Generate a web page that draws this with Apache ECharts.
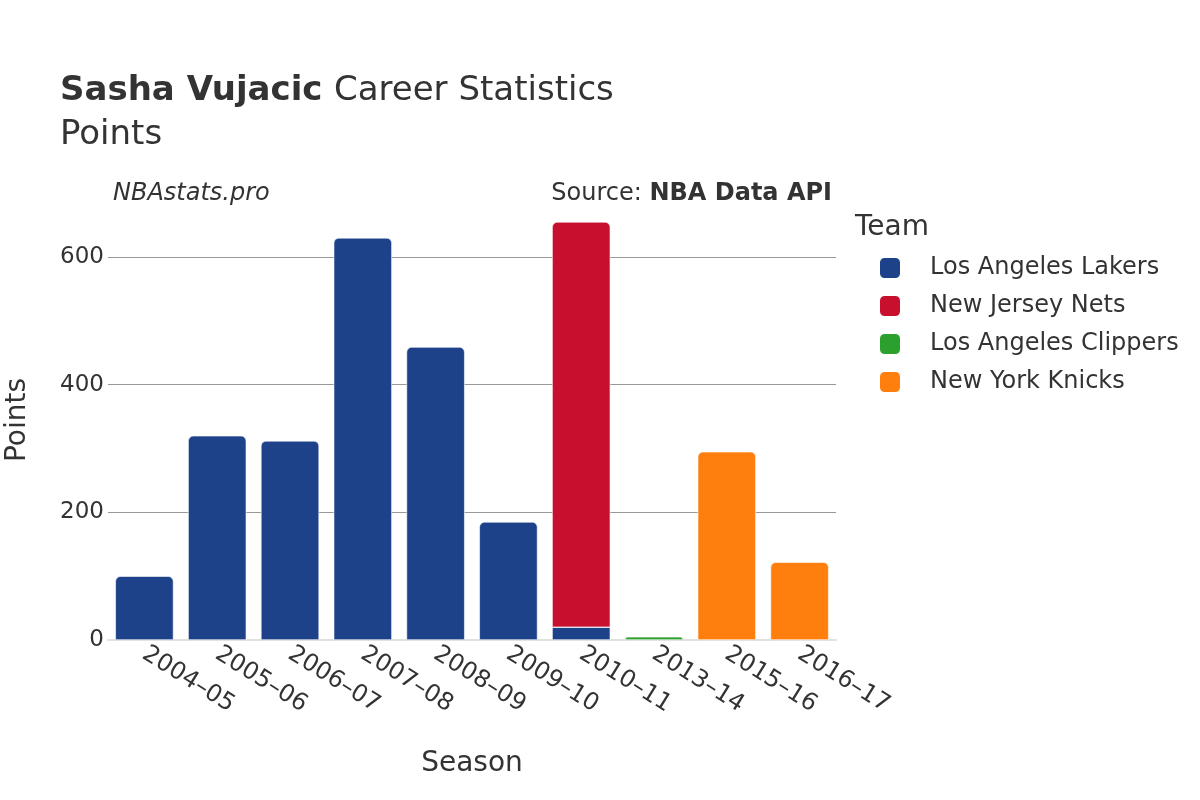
<!DOCTYPE html>
<html>
<head>
<meta charset="utf-8">
<script src="https://cdn.jsdelivr.net/npm/echarts@6/dist/echarts.min.js"></script>
<style>
  html, body { margin: 0; padding: 0; background: #fff; }
  #main { width: 1200px; height: 800px; }
</style>
</head>
<body>
<div id="main"></div>
<script>
var seasons = ["2004–05", "2005–06", "2006–07", "2007–08", "2008–09", "2009–10", "2010–11", "2013–14", "2015–16", "2016–17"];
var teams = ["Los Angeles Lakers", "New Jersey Nets", "Los Angeles Clippers", "New York Knicks"];
var lakers   = [100, 320, 312, 630, 459, 185, 20, null, null, null];
var nets     = [null, null, null, null, null, null, 635, null, null, null];
var clippers = [null, null, null, null, null, null, null, 5, null, null];
var knicks   = [null, null, null, null, null, null, null, null, 295, 122];
var colors = ["#1d428a", "#c8102e", "#2ca02c", "#ff7f0e"];

var font = "DejaVu Sans";
var allData = [lakers, nets, clippers, knicks];

// only the topmost piece of each stack gets rounded corners
function topIndex(i) {
    var top = -1;
    for (var s = 0; s < allData.length; s++) {
        if (allData[s][i] != null) top = s;
    }
    return top;
}

var series = [];
for (var s = 0; s < teams.length; s++) {
    var d = [];
    for (var i = 0; i < seasons.length; i++) {
        var v = allData[s][i];
        if (v == null) { d.push(null); continue; }
        d.push({
            value: v,
            itemStyle: { borderRadius: topIndex(i) == s ? [5, 5, 0, 0] : 0 }
        });
    }
    series.push({
        name: teams[s],
        type: 'bar',
        stack: 'total',
        clip: false,
        barCategoryGap: '20%',
        itemStyle: { color: colors[s], borderColor: '#fff', borderWidth: 0.6 },
        data: d
    });
}

var myChart = echarts.init(document.getElementById('main'));
myChart.setOption({
    backgroundColor: '#fff',
    textStyle: { fontFamily: font },
    title: [
        {
            left: 55, top: 64,
            text: '{b|Sasha Vujacic}  {n|Career Statistics}\n{n|Points}',
            textStyle: {
                fontWeight: 'normal',
                rich: {
                    b: { fontFamily: font, fontSize: 34, fontWeight: 'bold', color: '#333', lineHeight: 44 },
                    n: { fontFamily: font, fontSize: 34, fontWeight: 'normal', color: '#333', lineHeight: 44 }
                }
            }
        },
        {
            left: 108, top: 177,
            text: 'NBAstats.pro',
            textStyle: { fontFamily: font, fontSize: 24, fontStyle: 'italic', fontWeight: 'normal', color: '#333' }
        },
        {
            right: 363, top: 177,
            text: '{n|Source: }{b|NBA Data API}',
            textStyle: {
                fontWeight: 'normal',
                rich: {
                    n: { fontFamily: font, fontSize: 24, fontWeight: 'normal', color: '#333' },
                    b: { fontFamily: font, fontSize: 24, fontWeight: 'bold', color: '#333' }
                }
            }
        },
        {
            left: 850, top: 209,
            text: 'Team',
            textStyle: { fontFamily: font, fontSize: 28, fontWeight: 'normal', color: '#333' }
        }
    ],
    graphic: [{
        type: 'text',
        x: 18, y: 420,
        rotation: Math.PI / 2,
        style: {
            text: 'Points',
            font: '28px "DejaVu Sans"',
            fill: '#333',
            align: 'center',
            verticalAlign: 'middle'
        }
    }],
    legend: {
        orient: 'vertical',
        left: 873, top: 251,
        itemWidth: 22, itemHeight: 22, itemGap: 14,
        icon: 'roundRect',
        data: teams,
        textStyle: { fontFamily: font, fontSize: 24, color: '#333', padding: [0, 0, 0, 24] }
    },
    grid: { left: 108, right: 364, top: 257, bottom: 160, outerBoundsMode: 'none', containLabel: false },
    xAxis: {
        type: 'category',
        data: seasons,
        name: 'Season',
        nameLocation: 'middle',
        nameGap: 110,
        nameTextStyle: { fontFamily: font, fontSize: 28, color: '#333' },
        axisLine: { show: true, lineStyle: { color: '#e0e0e0', width: 2 } },
        axisTick: { show: false },
        axisLabel: { rotate: -32, fontSize: 24, color: '#333', margin: 12, fontFamily: font }
    },
    yAxis: {
        type: 'value',
        min: 0, max: 600, interval: 200,
        axisLine: { show: false },
        axisTick: { show: false },
        axisLabel: { fontSize: 23, color: '#333', margin: 4, fontFamily: font },
        splitLine: { lineStyle: { color: '#999', width: 1 } }
    },
    series: series
});
</script>
</body>
</html>
